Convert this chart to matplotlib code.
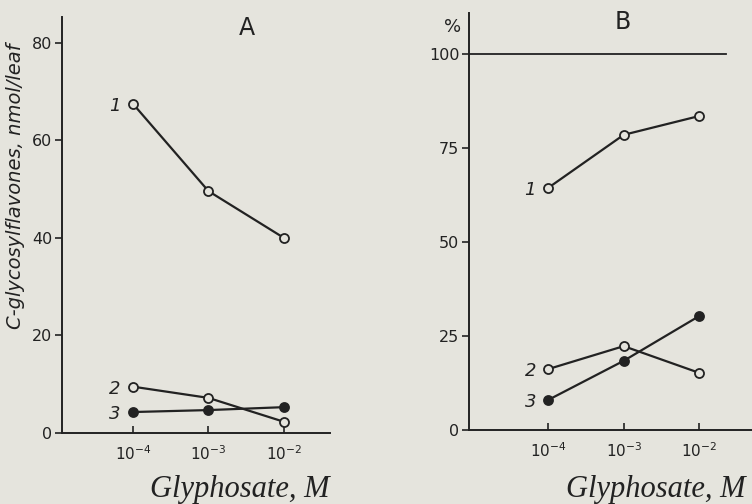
import numpy as np
import matplotlib.pyplot as plt

# glyphosate concentrations, M
conc = [1e-4, 1e-3, 1e-2]

# panel A: C-glycosylflavones, nmol/leaf
a_1 = [67.5, 49.6, 40.0]
a_2 = [9.5, 7.2, 2.3]
a_3 = [4.3, 4.7, 5.3]

# panel B: per cent
b_1 = [64.4, 78.5, 83.5]
b_2 = [16.2, 22.3, 15.2]
b_3 = [8.0, 18.4, 30.3]

series_labels = ['1', '2', '3']
open_marker = [True, True, False]

bg = '#e5e4dd'
ink = '#222222'

fig = plt.figure(figsize=(7.52, 5.04), dpi=100, facecolor=bg)


def panel(rect, ys, ylim, xlim, yticks, title, title_xy):
    ax = fig.add_axes(rect)
    ax.set_facecolor(bg)
    ax.set_xscale('log')
    for y, lab, op in zip(ys, series_labels, open_marker):
        ax.plot(conc, y, color=ink, lw=1.6, marker='o', ms=6.5,
                mfc=bg if op else ink, mec=ink, mew=1.3, zorder=3)
        ax.annotate(lab, (conc[0], y[0]), xytext=(-18, -2), textcoords='offset pixels',
                    ha='center', va='center', fontsize=13, style='italic', color=ink)
    ax.set_xlim(*xlim)
    ax.set_ylim(*ylim)
    ax.set_xticks(conc)
    ax.set_xticklabels([r'$\mathdefault{10^{-4}}$', r'$\mathdefault{10^{-3}}$',
                        r'$\mathdefault{10^{-2}}$'])
    ax.xaxis.set_minor_locator(plt.NullLocator())
    ax.set_yticks(yticks)
    ax.tick_params(axis='x', direction='in', length=5, width=1.2, colors=ink,
                   labelsize=11, pad=8)
    ax.tick_params(axis='y', direction='out', length=5, width=1.2, colors=ink,
                   labelsize=11.5, pad=2)
    for s in ['top', 'right']:
        ax.spines[s].set_visible(False)
    for s in ['left', 'bottom']:
        ax.spines[s].set_color(ink)
        ax.spines[s].set_linewidth(1.4)
    fig.text(title_xy[0] / 752, 1 - title_xy[1] / 504, title, ha='center', va='center',
             fontsize=17, color=ink)
    return ax


axA = panel([62 / 752, 1 - 433 / 504, 268 / 752, 416 / 504], [a_1, a_2, a_3],
            (0, 85.3), (10 ** -4.94, 10 ** -1.39), [0, 20, 40, 60, 80], 'A', (247, 28))
axB = panel([469 / 752, 1 - 430 / 504, 283 / 752, 417 / 504], [b_1, b_2, b_3],
            (0, 110.9), (10 ** -5.05, 10 ** -1.30), [0, 25, 50, 75, 100], 'B', (623, 22))
axB.axhline(100, xmax=0.908, color=ink, lw=1.3)

fig.text(16 / 752, 1 - 186 / 504, 'C-glycosylflavones, nmol/leaf', rotation=90,
         ha='center', va='center', fontsize=14, style='italic', color=ink)
fig.text(453 / 752, 1 - 27 / 504, '%', ha='center', va='center', fontsize=13, color=ink)

for xc in [240, 656]:
    fig.text(xc / 752, 1 - 489 / 504, 'Glyphosate, M', ha='center', va='center',
             fontsize=22, style='italic', family='Liberation Serif', color=ink)

fig.savefig('out.png', dpi=100, facecolor=bg)
